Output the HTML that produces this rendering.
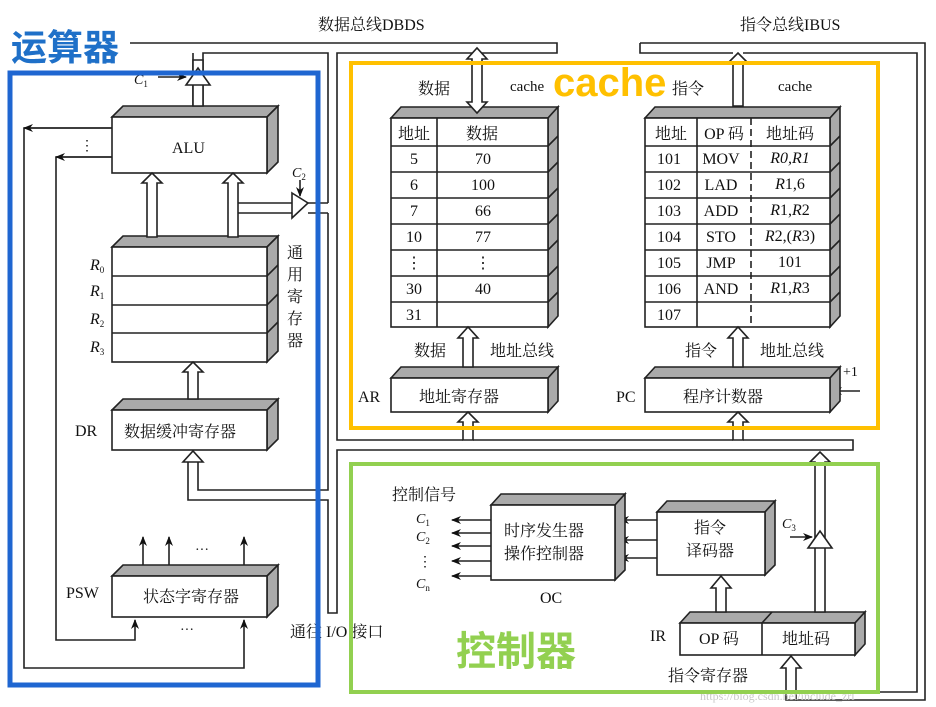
<!DOCTYPE html>
<html><head><meta charset="utf-8"><style>
html,body{margin:0;padding:0;background:#fff}
svg{display:block}
text{font-family:"Liberation Serif","Noto Serif CJK SC","Noto Sans CJK SC",serif;fill:#111}
.s{font-family:"Liberation Sans","Noto Sans CJK SC",sans-serif;font-weight:bold}
.i{font-style:italic}
</style></head><body>
<svg width="936" height="707" viewBox="0 0 936 707" xmlns="http://www.w3.org/2000/svg">
<defs>
<marker id="ah" markerWidth="10" markerHeight="8" refX="9" refY="4" orient="auto" markerUnits="userSpaceOnUse"><path d="M0,0 L10,4 L0,8 L3,4 Z" fill="#111"/></marker>
</defs>
<g fill="none" stroke="#222" stroke-width="1.6">
<polyline points="130,43 557,43 557,53 337,53 337,440 463,440"/>
<polyline points="193,53 193,106"/>
<polyline points="203,106 203,53 328,53 328,203"/>
<polyline points="328,213 328,490 198,490 198,460"/>
<polyline points="188,460 188,500 328,500 328,613 337,613 337,450 853,450 853,440 743,440"/>
<polyline points="473,440 733,440"/>
<polyline points="237,203 292,203"/><polyline points="308,203 328,203"/>
<polyline points="237,213 292,213"/><polyline points="308,213 328,213"/>
<polyline points="640,43 925,43 925,700 796,700"/>
<polyline points="640,43 640,53 733,53"/>
<polyline points="743,53 917,53 917,692 796,692"/>
<polyline points="112,128 24,128 24,668 244,668 244,620" marker-end="url(#ah)"/>
<polyline points="112,157 56,157 56,640 135,640 135,620" marker-end="url(#ah)"/>
<line x1="112" y1="128" x2="24" y2="128" marker-end="url(#ah)"/>
<line x1="112" y1="157" x2="56" y2="157" marker-end="url(#ah)"/>
<line x1="143" y1="565" x2="143" y2="537" marker-end="url(#ah)"/>
<line x1="169" y1="565" x2="169" y2="537" marker-end="url(#ah)"/>
<line x1="244" y1="565" x2="244" y2="537" marker-end="url(#ah)"/>
<line x1="158" y1="77" x2="186" y2="77" marker-end="url(#ah)"/>
<line x1="300" y1="180" x2="300" y2="196" marker-end="url(#ah)"/>
<line x1="790" y1="537" x2="812" y2="537" marker-end="url(#ah)"/>
<line x1="860" y1="391" x2="833" y2="391" marker-end="url(#ah)"/>
<line x1="491" y1="520" x2="452" y2="520" marker-end="url(#ah)"/>
<line x1="491" y1="533" x2="452" y2="533" marker-end="url(#ah)"/>
<line x1="491" y1="546" x2="452" y2="546" marker-end="url(#ah)"/>
<line x1="491" y1="561" x2="452" y2="561" marker-end="url(#ah)"/>
<line x1="491" y1="576" x2="452" y2="576" marker-end="url(#ah)"/>
<line x1="657" y1="520" x2="620" y2="520" marker-end="url(#ah)"/>
<line x1="657" y1="540" x2="620" y2="540" marker-end="url(#ah)"/>
<line x1="657" y1="558" x2="620" y2="558" marker-end="url(#ah)"/>
</g>
<g stroke="#222" stroke-width="1.6">
<polygon points="112,117 123,106 278,106 267,117" fill="#aaa"/>
<polygon points="267,117 278,106 278,162 267,173" fill="#aaa"/>
<rect x="112" y="117" width="155" height="56" fill="#fff"/>
<polygon points="112,247 123,236 278,236 267,247" fill="#aaa"/>
<polygon points="267,247 278,236 278,351 267,362" fill="#aaa"/>
<rect x="112" y="247" width="155" height="115" fill="#fff"/>
<path d="M112,276H267l11,-11M112,305H267l11,-11M112,333H267l11,-11" fill="none"/>
<polygon points="112,410 123,399 278,399 267,410" fill="#aaa"/>
<polygon points="267,410 278,399 278,439 267,450" fill="#aaa"/>
<rect x="112" y="410" width="155" height="40" fill="#fff"/>
<polygon points="112,576 123,565 278,565 267,576" fill="#aaa"/>
<polygon points="267,576 278,565 278,606 267,617" fill="#aaa"/>
<rect x="112" y="576" width="155" height="41" fill="#fff"/>
<polygon points="391,118 401,107 558,107 548,118" fill="#aaa"/>
<polygon points="548,118 558,107 558,316 548,327" fill="#aaa"/>
<rect x="391" y="118" width="157" height="209" fill="#fff"/>
<g fill="none"><path d="M391,146H548M391,172H548M391,198H548M391,224H548M391,250H548M391,276H548M391,302H548M437,118V327"/>
<path d="M548,146l10,-10M548,172l10,-10M548,198l10,-10M548,224l10,-10M548,250l10,-10M548,276l10,-10M548,302l10,-10"/></g>
<polygon points="645,118 655,107 840,107 830,118" fill="#aaa"/>
<polygon points="830,118 840,107 840,316 830,327" fill="#aaa"/>
<rect x="645" y="118" width="185" height="209" fill="#fff"/>
<g fill="none"><path d="M645,146H830M645,172H830M645,198H830M645,224H830M645,250H830M645,276H830M645,302H830M697,118V327"/>
<path d="M751,118V327" stroke-dasharray="7,4"/>
<path d="M830,146l10,-10M830,172l10,-10M830,198l10,-10M830,224l10,-10M830,250l10,-10M830,276l10,-10M830,302l10,-10"/></g>
<polygon points="391,378 401,367 558,367 548,378" fill="#aaa"/>
<polygon points="548,378 558,367 558,401 548,412" fill="#aaa"/>
<rect x="391" y="378" width="157" height="34" fill="#fff"/>
<polygon points="645,378 655,367 840,367 830,378" fill="#aaa"/>
<polygon points="830,378 840,367 840,401 830,412" fill="#aaa"/>
<rect x="645" y="378" width="185" height="34" fill="#fff"/>
<polygon points="491,505 501,494 625,494 615,505" fill="#aaa"/>
<polygon points="615,505 625,494 625,570 615,580" fill="#aaa"/>
<rect x="491" y="505" width="124" height="75" fill="#fff"/>
<polygon points="657,512 667,501 775,501 765,512" fill="#aaa"/>
<polygon points="765,512 775,501 775,565 765,575" fill="#aaa"/>
<rect x="657" y="512" width="108" height="63" fill="#fff"/>
<polygon points="680,623 690,612 865,612 855,623" fill="#aaa"/>
<polygon points="855,623 865,612 865,644 855,655" fill="#aaa"/>
<rect x="680" y="623" width="175" height="32" fill="#fff"/>
<line x1="762" y1="623" x2="762" y2="655"/><line x1="762" y1="623" x2="772" y2="612"/>
</g>
<g fill="#fff" stroke="#222" stroke-width="1.6">
<polygon points="147,237 147,183 142,183 152,173 162,183 157,183 157,237"/>
<polygon points="228,237 228,183 223,183 233,173 243,183 238,183 238,237"/>
<polygon points="188,399 188,372 183,372 193,362 203,372 198,372 198,399"/>
<polygon points="188,462 183,462 193,451 203,462 198,462"/>
<polygon points="193,106 193,60 203,60 203,106"/>
<polygon points="186,85 198,68 210,85"/>
<polygon points="292,193 308,203 292,218"/>
<polygon points="472,59 467,59 477,48 487,59 482,59 482,102 487,102 477,113 467,102 472,102"/>
<polygon points="733,106 733,63 728,63 738,53 748,63 743,63 743,106"/>
<polygon points="463,440 463,422 458,422 468,412 478,422 473,422 473,440"/>
<polygon points="463,367 463,338 458,338 468,327 478,338 473,338 473,367"/>
<polygon points="733,440 733,422 728,422 738,412 748,422 743,422 743,440"/>
<polygon points="733,367 733,338 728,338 738,327 748,338 743,338 743,367"/>
<polygon points="716,612 716,588 711,588 721,576 731,588 726,588 726,612"/>
<polygon points="815,612 815,462 810,462 820,452 830,462 825,462 825,612"/>
<polygon points="808,548 820,531 832,548"/>
<polygon points="786,700 786,668 781,668 791,656 801,668 796,668 796,700"/>
</g>
<g font-size="16">
<text x="318" y="30">数据总线DBDS</text>
<text x="740" y="30">指令总线IBUS</text>
<text x="172" y="153" font-size="16">ALU</text>
<text x="134" y="84" class="i" font-size="14">C<tspan font-size="9" dy="3" font-style="normal">1</tspan></text>
<text x="292" y="177" class="i" font-size="14">C<tspan font-size="9" dy="3" font-style="normal">2</tspan></text>
<text x="782" y="528" class="i" font-size="14">C<tspan font-size="9" dy="3" font-style="normal">3</tspan></text>
<text x="80" y="150" font-size="14">⋮</text>
<text x="90" y="270" class="i">R<tspan font-size="9" dy="3" font-style="normal">0</tspan></text>
<text x="90" y="296" class="i">R<tspan font-size="9" dy="3" font-style="normal">1</tspan></text>
<text x="90" y="324" class="i">R<tspan font-size="9" dy="3" font-style="normal">2</tspan></text>
<text x="90" y="352" class="i">R<tspan font-size="9" dy="3" font-style="normal">3</tspan></text>
<text x="287" y="258">通</text><text x="287" y="280">用</text><text x="287" y="302">寄</text><text x="287" y="324">存</text><text x="287" y="346">器</text>
<text x="75" y="436">DR</text>
<text x="124" y="437">数据缓冲寄存器</text>
<text x="66" y="598">PSW</text>
<text x="143" y="602">状态字寄存器</text>
<text x="195" y="554" font-size="14">···</text>
<text x="180" y="634" font-size="14">···</text>
<text x="290" y="637">通往 I/O 接口</text>
<text x="418" y="94">数据</text>
<text x="510" y="91" font-size="15">cache</text>
<text x="672" y="94">指令</text>
<text x="778" y="91" font-size="15">cache</text>
<text x="398" y="139">地址</text><text x="466" y="139">数据</text>
<g text-anchor="middle">
<text x="414" y="164">5</text><text x="483" y="164">70</text>
<text x="414" y="190">6</text><text x="483" y="190">100</text>
<text x="414" y="216">7</text><text x="483" y="216">66</text>
<text x="414" y="242">10</text><text x="483" y="242">77</text>
<text x="414" y="268">⋮</text><text x="483" y="268">⋮</text>
<text x="414" y="294">30</text><text x="483" y="294">40</text>
<text x="414" y="320">31</text>
<text x="671" y="139">地址</text><text x="724" y="139">OP 码</text><text x="790" y="139">地址码</text>
<text x="669" y="164">101</text><text x="721" y="164">MOV</text><text x="790" y="163" class="i">R0,R1</text>
<text x="669" y="190">102</text><text x="721" y="190">LAD</text><text x="790" y="189"><tspan class="i">R</tspan>1,6</text>
<text x="669" y="216">103</text><text x="721" y="216">ADD</text><text x="790" y="215"><tspan class="i">R</tspan>1,<tspan class="i">R</tspan>2</text>
<text x="669" y="242">104</text><text x="721" y="242">STO</text><text x="790" y="241"><tspan class="i">R</tspan>2,(<tspan class="i">R</tspan>3)</text>
<text x="669" y="268">105</text><text x="721" y="268">JMP</text><text x="790" y="267">101</text>
<text x="669" y="294">106</text><text x="721" y="294">AND</text><text x="790" y="293"><tspan class="i">R</tspan>1,<tspan class="i">R</tspan>3</text>
<text x="669" y="320">107</text>
</g>
<text x="414" y="356">数据</text><text x="490" y="356">地址总线</text>
<text x="685" y="356">指令</text><text x="760" y="356">地址总线</text>
<text x="358" y="402">AR</text><text x="419" y="402">地址寄存器</text>
<text x="616" y="402">PC</text><text x="683" y="402">程序计数器</text>
<text x="843" y="376" font-size="14">+1</text>
<text x="392" y="500">控制信号</text>
<text x="416" y="523" class="i" font-size="14">C<tspan font-size="9" dy="3" font-style="normal">1</tspan></text>
<text x="416" y="541" class="i" font-size="14">C<tspan font-size="9" dy="3" font-style="normal">2</tspan></text>
<text x="418" y="566" font-size="14">⋮</text>
<text x="416" y="588" class="i" font-size="14">C<tspan font-size="9" dy="3" font-style="normal">n</tspan></text>
<text x="504" y="536">时序发生器</text><text x="504" y="559">操作控制器</text>
<text x="540" y="603">OC</text>
<text x="694" y="533">指令</text><text x="686" y="556">译码器</text>
<text x="650" y="641">IR</text>
<text x="699" y="644">OP 码</text><text x="782" y="644">地址码</text>
<text x="668" y="681">指令寄存器</text>
</g>
<text x="700" y="700" font-size="12" style="fill:#c8c8c8" font-family="Liberation Sans">https://blog.csdn.net/include_zrl</text>
<rect x="10" y="73" width="308" height="612" fill="none" stroke="#1f66d1" stroke-width="5"/>
<rect x="351" y="63" width="527" height="365" fill="none" stroke="#ffc000" stroke-width="4"/>
<rect x="351" y="464" width="527" height="228" fill="none" stroke="#92d050" stroke-width="4"/>
<text x="11" y="60" class="s" font-size="36" style="fill:#1f70c8">运算器</text>
<text x="553" y="96" class="s" font-size="40" style="fill:#ffc000">cache</text>
<text x="456" y="665" class="s" font-size="40" style="fill:#92d050">控制器</text>
</svg>
</body></html>
